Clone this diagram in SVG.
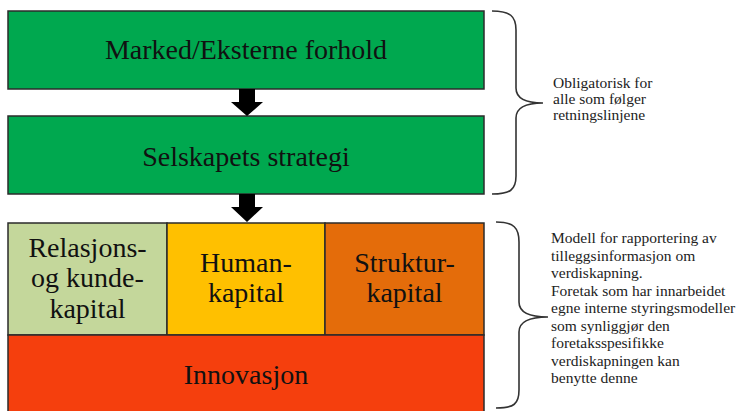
<svg xmlns="http://www.w3.org/2000/svg" width="738" height="411" viewBox="0 0 738 411">
<style>
.box{stroke:#2b2b2b;stroke-width:1.5}
.main{font-family:'Liberation Serif','Times New Roman',serif;font-size:28px;fill:#111;text-anchor:middle}
.note{font-family:'Liberation Serif','Times New Roman',serif;font-size:15.5px;fill:#222}
.brace{fill:none;stroke:#333;stroke-width:1.6}
.arrow{fill:#000}
</style>
<rect width="738" height="411" fill="#fff"/>
<g id="marked">
<rect class="box" x="8" y="11" width="476" height="78" fill="#00A84F"/>
<text class="main" x="246" y="59">Marked/Eksterne forhold</text>
</g>
<g id="strategi">
<rect class="box" x="8" y="116" width="476" height="78" fill="#00A84F"/>
<text class="main" x="246" y="166">Selskapets strategi</text>
</g>
<g id="relasjon">
<rect class="box" x="8" y="223" width="159" height="112" fill="#C4D79B"/>
<text class="main" x="87.5" y="257">Relasjons-</text>
<text class="main" x="87.5" y="287">og kunde-</text>
<text class="main" x="87.5" y="318">kapital</text>
</g>
<g id="human">
<rect class="box" x="167" y="223" width="158" height="112" fill="#FFC000"/>
<text class="main" x="246" y="272">Human-</text>
<text class="main" x="246" y="302">kapital</text>
</g>
<g id="struktur">
<rect class="box" x="325" y="223" width="159" height="112" fill="#E46C0A"/>
<text class="main" x="404.5" y="272">Struktur-</text>
<text class="main" x="404.5" y="302">kapital</text>
</g>
<g id="innovasjon">
<rect class="box" x="8" y="335" width="476" height="90" fill="#F53F0D"/>
<text class="main" x="246" y="384">Innovasjon</text>
</g>
<g id="connectors">
<polygon class="arrow" points="239,89 255,89 255,102 263,102 247,116 231,102 239,102"/>
<polygon class="arrow" points="239,194 255,194 255,207 263,207 247,222 231,207 239,207"/>
</g>
<g id="brace-top">
<path class="brace" d="M492,11 C510,11 516,16 516,30 L516,88 C516,98 524,103 543,103 C524,103 516,108 516,118 L516,176 C516,190 510,194 492,194"/>
<text class="note" x="553" y="88">Obligatorisk for</text>
<text class="note" x="553" y="104">alle som følger</text>
<text class="note" x="553" y="120">retningslinjene</text>
</g>
<g id="brace-bottom">
<path class="brace" d="M496,222 C514,222 519,228 519,242 L519,302 C519,312 528,317 548,317 C528,317 519,322 519,332 L519,390 C519,404 514,408 496,408"/>
<text class="note" x="551" y="243">Modell for rapportering av</text>
<text class="note" x="551" y="260.5">tilleggsinformasjon om</text>
<text class="note" x="551" y="278">verdiskapning.</text>
<text class="note" x="551" y="295.5">Foretak som har innarbeidet</text>
<text class="note" x="551" y="313">egne interne styringsmodeller</text>
<text class="note" x="551" y="330.5">som synliggjør den</text>
<text class="note" x="551" y="348">foretaksspesifikke</text>
<text class="note" x="551" y="365.5">verdiskapningen kan</text>
<text class="note" x="551" y="383">benytte denne</text>
</g>
</svg>
